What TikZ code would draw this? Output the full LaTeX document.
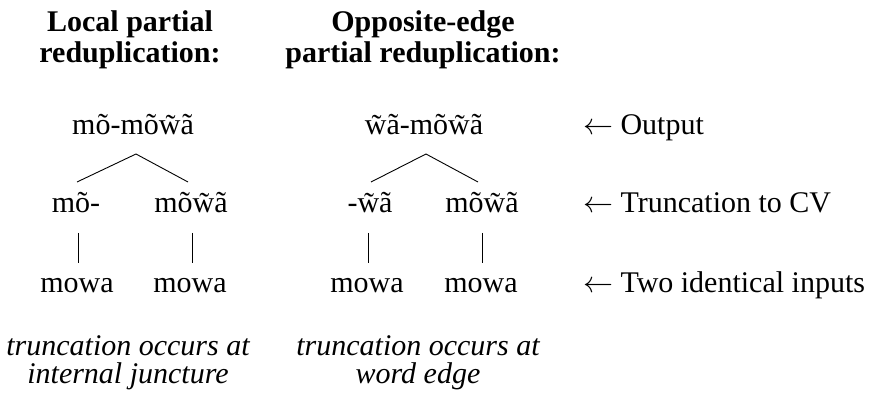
\RequirePackage{fix-cm}
\documentclass[tikz,border=0pt]{standalone}
\usepackage{fontspec}
\setmainfont{Liberation Serif}
\usetikzlibrary{calc}

\tikzset{
  txt/.style={inner sep=0pt, outer sep=0pt, anchor=base,
              font=\fontsize{30}{31}\selectfont},
  head/.style={txt, font=\fontsize{30}{31}\selectfont\bfseries, align=center},
  note/.style={txt, font=\fontsize{30}{28}\selectfont\itshape, align=center},
  lvl/.style={txt, anchor=base west},
  branch/.style={line width=0.9pt, black},
}

\begin{document}
\begin{tikzpicture}[x=1pt, y=-1pt]
  \useasboundingbox (0,0) rectangle (876,398);

  % column headings (base anchor sits on the last line)
  \node[head] (hL) at (130,63) {Local partial\\reduplication:};
  \node[head] (hR) at (423,63) {Opposite-edge\\partial reduplication:};

  % left tree: local partial reduplication
  \node[txt] (outL) at (133,135) {mõ-mõw̃ã};
  \node[txt] (trLa) at (76,213)  {mõ-};
  \node[txt] (trLb) at (191,213) {mõw̃ã};
  \node[txt] (inLa) at (77,293)  {mowa};
  \node[txt] (inLb) at (190,293) {mowa};

  % right tree: opposite-edge partial reduplication
  \node[txt] (outR) at (424,135) {w̃ã-mõw̃ã};
  \node[txt] (trRa) at (370,213) {-w̃ã};
  \node[txt] (trRb) at (482,213) {mõw̃ã};
  \node[txt] (inRa) at (367,293) {mowa};
  \node[txt] (inRb) at (481,293) {mowa};

  % level labels
  \node[lvl] (lOut) at (583,135) {$\leftarrow$ Output};
  \node[lvl] (lTr)  at (583,213) {$\leftarrow$ Truncation to CV};
  \node[lvl] (lIn)  at (583,293) {$\leftarrow$ Two identical inputs};

  % branches
  \draw[branch] ($(trLa.base)+(1,-31)$) -- ($(outL.base)+(3,19)$) -- ($(trLb.base)+(-3,-31)$);
  \draw[branch] ($(trRa.base)+(1,-31)$) -- ($(outR.base)+(2,19)$) -- ($(trRb.base)+(-4,-31)$);
  \draw[branch] ($(trLa.base)+(2,20)$) -- ($(inLa.base)+(1,-30)$);
  \draw[branch] ($(trLb.base)+(1,20)$) -- ($(inLb.base)+(2,-30)$);
  \draw[branch] ($(trRa.base)+(-2,20)$) -- ($(inRa.base)+(1,-30)$);
  \draw[branch] ($(trRb.base)+(0,20)$) -- ($(inRb.base)+(1,-30)$);

  % notes
  \node[note] (nL) at (128,383) {truncation occurs at\\internal juncture};
  \node[note] (nR) at (418,383) {truncation occurs at\\word edge};
\end{tikzpicture}
\end{document}
